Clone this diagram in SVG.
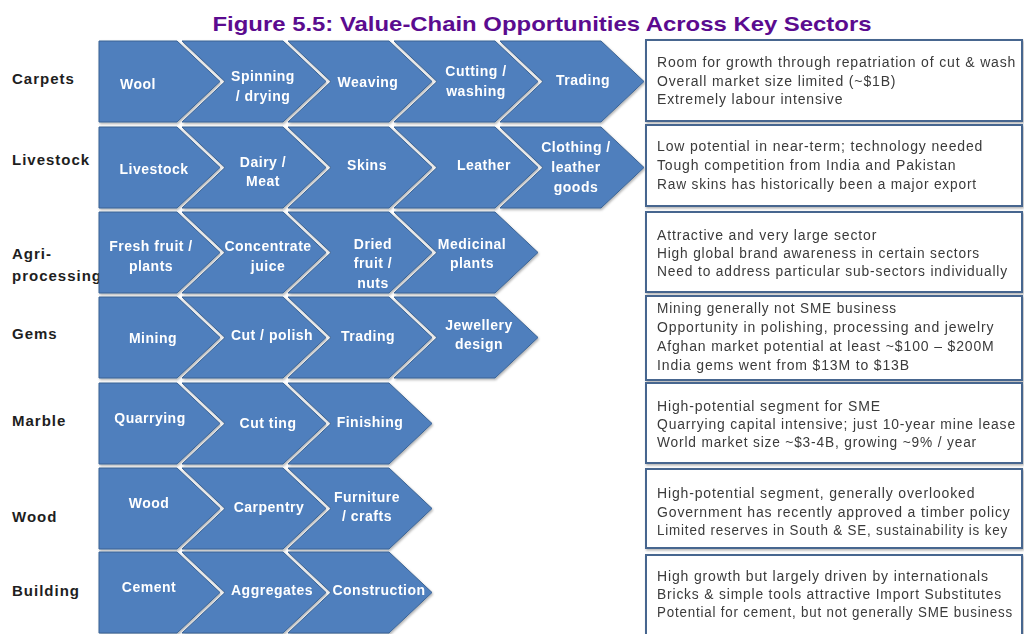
<svg xmlns="http://www.w3.org/2000/svg" xmlns:xlink="http://www.w3.org/1999/xlink" width="1024" height="634" viewBox="0 0 1024 634">
<style>
.ch{fill:#4f7fbd;stroke:#3a6394;stroke-width:1}
.cl{font-family:"Liberation Sans",Arial,sans-serif;font-weight:bold;font-size:14px;fill:#ffffff;text-anchor:middle;letter-spacing:0.5px}
.sec{font-family:"Liberation Sans",Arial,sans-serif;font-weight:bold;font-size:15px;fill:#1e1e1e;letter-spacing:1px}
.box{fill:#ffffff;stroke:#46668f;stroke-width:2}
.bt{font-family:"Liberation Sans",Arial,sans-serif;font-size:14px;fill:#3a3a3a;letter-spacing:0.85px}
.title{font-family:"Liberation Sans",Arial,sans-serif;font-weight:bold;font-size:21px;fill:#5b0b8f;text-anchor:middle}
</style>
<defs>
<filter id="sh" x="-5%" y="-5%" width="110%" height="115%">
<feDropShadow dx="1" dy="1.5" stdDeviation="1" flood-color="#000" flood-opacity="0.3"/>
</filter>
<polygon id="first" class="ch" points="0,0 78,0 121,40.5 78,81 0,81"/>
<polygon id="mid" class="ch" points="0,0 101,0 144,40.5 101,81 0,81 43,40.5"/>
</defs>
<rect width="1024" height="634" fill="#ffffff"/>
<text class="title" x="542" y="31" textLength="659" lengthAdjust="spacingAndGlyphs">Figure 5.5: Value-Chain Opportunities Across Key Sectors</text>

<g id="sector-labels">
<text class="sec" x="12" y="84">Carpets</text>
<text class="sec" x="12" y="165">Livestock</text>
<text class="sec" x="12" y="259">Agri-</text>
<text class="sec" x="12" y="281">processing</text>
<text class="sec" x="12" y="339">Gems</text>
<text class="sec" x="12" y="426">Marble</text>
<text class="sec" x="12" y="522">Wood</text>
<text class="sec" x="12" y="596">Building</text>
</g>

<g id="chevrons" filter="url(#sh)">
<g id="carpets-wool"><use xlink:href="#first" x="99" y="41"/><text class="cl" x="138" y="89">Wool</text></g>
<g id="carpets-spinning"><use xlink:href="#mid" x="182" y="41"/><text class="cl" x="263" y="81">Spinning</text><text class="cl" x="263" y="101">/ drying</text></g>
<g id="carpets-weaving"><use xlink:href="#mid" x="288" y="41"/><text class="cl" x="368" y="87">Weaving</text></g>
<g id="carpets-cutting"><use xlink:href="#mid" x="394" y="41"/><text class="cl" x="476" y="76">Cutting /</text><text class="cl" x="476" y="96">washing</text></g>
<g id="carpets-trading"><use xlink:href="#mid" x="500" y="41"/><text class="cl" x="583" y="85">Trading</text></g>
<g id="livestock-livestock"><use xlink:href="#first" x="99" y="127"/><text class="cl" x="154" y="174">Livestock</text></g>
<g id="livestock-dairy"><use xlink:href="#mid" x="182" y="127"/><text class="cl" x="263" y="167">Dairy /</text><text class="cl" x="263" y="186">Meat</text></g>
<g id="livestock-skins"><use xlink:href="#mid" x="288" y="127"/><text class="cl" x="367" y="170">Skins</text></g>
<g id="livestock-leather"><use xlink:href="#mid" x="394" y="127"/><text class="cl" x="484" y="170">Leather</text></g>
<g id="livestock-clothing"><use xlink:href="#mid" x="500" y="127"/><text class="cl" x="576" y="152">Clothing /</text><text class="cl" x="576" y="172">leather</text><text class="cl" x="576" y="192">goods</text></g>
<g id="agri-fresh"><use xlink:href="#first" x="99" y="212"/><text class="cl" x="151" y="251">Fresh fruit /</text><text class="cl" x="151" y="271">plants</text></g>
<g id="agri-juice"><use xlink:href="#mid" x="182" y="212"/><text class="cl" x="268" y="251">Concentrate</text><text class="cl" x="268" y="271">juice</text></g>
<g id="agri-dried"><use xlink:href="#mid" x="288" y="212"/><text class="cl" x="373" y="249">Dried</text><text class="cl" x="373" y="268">fruit /</text><text class="cl" x="373" y="288">nuts</text></g>
<g id="agri-medicinal"><use xlink:href="#mid" x="394" y="212"/><text class="cl" x="472" y="249">Medicinal</text><text class="cl" x="472" y="268">plants</text></g>
<g id="gems-mining"><use xlink:href="#first" x="99" y="297"/><text class="cl" x="153" y="343">Mining</text></g>
<g id="gems-cut"><use xlink:href="#mid" x="182" y="297"/><text class="cl" x="272" y="340">Cut / polish</text></g>
<g id="gems-trading"><use xlink:href="#mid" x="288" y="297"/><text class="cl" x="368" y="341">Trading</text></g>
<g id="gems-jewellery"><use xlink:href="#mid" x="394" y="297"/><text class="cl" x="479" y="330">Jewellery</text><text class="cl" x="479" y="349">design</text></g>
<g id="marble-quarrying"><use xlink:href="#first" x="99" y="383"/><text class="cl" x="150" y="423">Quarrying</text></g>
<g id="marble-cutting"><use xlink:href="#mid" x="182" y="383"/><text class="cl" x="268" y="428">Cut ting</text></g>
<g id="marble-finishing"><use xlink:href="#mid" x="288" y="383"/><text class="cl" x="370" y="427">Finishing</text></g>
<g id="wood-wood"><use xlink:href="#first" x="99" y="468"/><text class="cl" x="149" y="508">Wood</text></g>
<g id="wood-carpentry"><use xlink:href="#mid" x="182" y="468"/><text class="cl" x="269" y="512">Carpentry</text></g>
<g id="wood-furniture"><use xlink:href="#mid" x="288" y="468"/><text class="cl" x="367" y="502">Furniture</text><text class="cl" x="367" y="521">/ crafts</text></g>
<g id="building-cement"><use xlink:href="#first" x="99" y="552"/><text class="cl" x="149" y="592">Cement</text></g>
<g id="building-aggregates"><use xlink:href="#mid" x="182" y="552"/><text class="cl" x="272" y="595">Aggregates</text></g>
<g id="building-construction"><use xlink:href="#mid" x="288" y="552"/><text class="cl" x="379" y="595">Construction</text></g>
</g>

<g id="boxes" filter="url(#sh)">
<g id="box-carpets"><rect class="box" x="646" y="40" width="376" height="81"/>
<text class="bt" x="657" y="67">Room for growth through repatriation of cut &amp; wash</text>
<text class="bt" x="657" y="86">Overall market size limited (~$1B)</text>
<text class="bt" x="657" y="104">Extremely labour intensive</text></g>
<g id="box-livestock"><rect class="box" x="646" y="125" width="376" height="81"/>
<text class="bt" x="657" y="151">Low potential in near-term; technology needed</text>
<text class="bt" x="657" y="170">Tough competition from India and Pakistan</text>
<text class="bt" x="657" y="189" textLength="320" lengthAdjust="spacingAndGlyphs">Raw skins has historically been a major export</text></g>
<g id="box-agri"><rect class="box" x="646" y="212" width="376" height="80"/>
<text class="bt" x="657" y="240">Attractive and very large sector</text>
<text class="bt" x="657" y="258" textLength="323" lengthAdjust="spacingAndGlyphs">High global brand awareness in certain sectors</text>
<text class="bt" x="657" y="276" textLength="351" lengthAdjust="spacingAndGlyphs">Need to address particular sub-sectors individually</text></g>
<g id="box-gems"><rect class="box" x="646" y="296" width="376" height="84"/>
<text class="bt" x="657" y="313" textLength="240" lengthAdjust="spacingAndGlyphs">Mining generally not SME business</text>
<text class="bt" x="657" y="332">Opportunity in polishing, processing and jewelry</text>
<text class="bt" x="657" y="351">Afghan market potential at least ~$100 – $200M</text>
<text class="bt" x="657" y="370">India gems went from $13M to $13B</text></g>
<g id="box-marble"><rect class="box" x="646" y="383" width="376" height="80"/>
<text class="bt" x="657" y="411">High-potential segment for SME</text>
<text class="bt" x="657" y="429" textLength="359" lengthAdjust="spacingAndGlyphs">Quarrying capital intensive; just 10-year mine lease</text>
<text class="bt" x="657" y="447" textLength="320" lengthAdjust="spacingAndGlyphs">World market size ~$3-4B, growing ~9% / year</text></g>
<g id="box-wood"><rect class="box" x="646" y="469" width="376" height="79"/>
<text class="bt" x="657" y="498">High-potential segment, generally overlooked</text>
<text class="bt" x="657" y="517">Government has recently approved a timber policy</text>
<text class="bt" x="657" y="535" textLength="351" lengthAdjust="spacingAndGlyphs">Limited reserves in South &amp; SE, sustainability is key</text></g>
<g id="box-building"><rect class="box" x="646" y="555" width="376" height="90"/>
<text class="bt" x="657" y="581">High growth but largely driven by internationals</text>
<text class="bt" x="657" y="599" textLength="345" lengthAdjust="spacingAndGlyphs">Bricks &amp; simple tools attractive Import Substitutes</text>
<text class="bt" x="657" y="617" textLength="356" lengthAdjust="spacingAndGlyphs">Potential for cement, but not generally SME business</text></g>
</g>
</svg>
